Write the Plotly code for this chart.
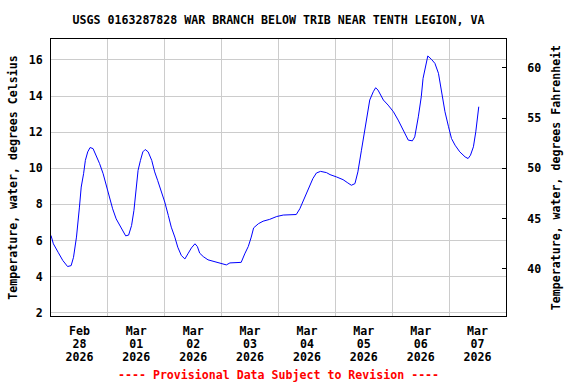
import plotly.graph_objects as go

times = [
    "2026-02-27 12:00", "2026-02-27 13:00", "2026-02-27 15:00", "2026-02-27 17:00",
    "2026-02-27 19:00", "2026-02-27 20:30", "2026-02-27 21:30", "2026-02-27 22:45",
    "2026-02-28 00:00", "2026-02-28 00:45", "2026-02-28 01:45", "2026-02-28 02:30",
    "2026-02-28 03:30", "2026-02-28 04:30", "2026-02-28 05:45", "2026-02-28 07:00",
    "2026-02-28 08:30", "2026-02-28 10:00", "2026-02-28 11:15", "2026-02-28 12:45",
    "2026-02-28 14:00", "2026-02-28 15:30", "2026-02-28 17:00", "2026-02-28 18:30",
    "2026-02-28 19:30", "2026-02-28 20:45", "2026-02-28 22:00", "2026-02-28 23:00",
    "2026-02-28 23:45", "2026-03-01 00:45", "2026-03-01 01:45", "2026-03-01 02:45",
    "2026-03-01 03:45", "2026-03-01 05:00", "2026-03-01 06:30", "2026-03-01 07:45",
    "2026-03-01 09:00", "2026-03-01 10:30", "2026-03-01 12:00", "2026-03-01 13:30",
    "2026-03-01 14:45", "2026-03-01 16:15", "2026-03-01 17:30", "2026-03-01 19:00",
    "2026-03-01 20:30", "2026-03-01 21:45", "2026-03-01 23:15", "2026-03-02 00:45",
    "2026-03-02 01:45", "2026-03-02 02:45", "2026-03-02 04:15", "2026-03-02 06:15",
    "2026-03-02 08:30", "2026-03-02 10:30", "2026-03-02 12:30", "2026-03-02 14:00",
    "2026-03-02 15:30", "2026-03-02 18:15", "2026-03-02 20:15", "2026-03-02 21:45",
    "2026-03-02 23:15", "2026-03-03 00:30", "2026-03-03 01:30", "2026-03-03 03:30",
    "2026-03-03 05:30", "2026-03-03 08:15", "2026-03-03 11:15", "2026-03-03 14:00",
    "2026-03-03 16:45", "2026-03-03 19:30", "2026-03-03 21:00", "2026-03-03 22:30",
    "2026-03-03 23:45", "2026-03-04 01:15", "2026-03-04 02:30", "2026-03-04 04:00",
    "2026-03-04 05:45", "2026-03-04 08:15", "2026-03-04 09:45", "2026-03-04 12:30",
    "2026-03-04 15:15", "2026-03-04 17:15", "2026-03-04 18:45", "2026-03-04 20:15",
    "2026-03-04 21:30", "2026-03-04 23:00", "2026-03-05 00:00", "2026-03-05 01:15",
    "2026-03-05 02:30", "2026-03-05 04:00", "2026-03-05 05:00", "2026-03-05 06:00",
    "2026-03-05 08:15", "2026-03-05 10:15", "2026-03-05 12:30", "2026-03-05 14:30",
    "2026-03-05 16:45", "2026-03-05 18:45", "2026-03-05 20:30", "2026-03-05 21:30",
    "2026-03-05 23:00", "2026-03-06 00:15", "2026-03-06 01:00", "2026-03-06 02:15",
    "2026-03-06 03:00", "2026-03-06 04:30", "2026-03-06 06:00", "2026-03-06 07:30",
    "2026-03-06 09:00", "2026-03-06 10:15", "2026-03-06 11:45", "2026-03-06 13:00",
    "2026-03-06 14:30", "2026-03-06 16:30", "2026-03-06 18:45", "2026-03-06 20:00",
    "2026-03-06 21:00", "2026-03-06 22:15", "2026-03-06 23:15", "2026-03-07 00:00",
    "2026-03-07 00:30",
]
temp_c = [
    6.28, 5.82, 5.35, 4.89, 4.56, 4.61, 5.07, 6.19,
    7.85, 8.96, 9.70, 10.44, 10.91, 11.15, 11.09, 10.72,
    10.26, 9.70, 9.06, 8.41, 7.76, 7.20, 6.83, 6.46,
    6.26, 6.30, 6.83, 7.67, 8.78, 9.89, 10.44, 10.91,
    11.04, 10.91, 10.44, 9.80, 9.33, 8.78, 8.13, 7.39,
    6.74, 6.19, 5.63, 5.17, 4.98, 5.26, 5.59, 5.82,
    5.67, 5.30, 5.11, 4.93, 4.85, 4.78, 4.74, 4.65,
    4.76, 4.76, 4.79, 5.26, 5.67, 6.19, 6.70, 6.93,
    7.07, 7.17, 7.33, 7.41, 7.44, 7.44, 7.76, 8.22,
    8.69, 9.06, 9.43, 9.74, 9.83, 9.76, 9.65, 9.52,
    9.37, 9.19, 9.06, 9.15, 9.80, 11.00, 11.74, 12.85,
    13.78, 14.24, 14.46, 14.33, 13.78, 13.50, 13.13, 12.67,
    12.07, 11.56, 11.52, 11.74, 12.85, 13.96, 14.98, 15.72,
    16.22, 16.04, 15.81, 15.26, 14.15, 13.13, 12.30, 11.65,
    11.28, 10.91, 10.63, 10.54, 10.72, 11.19, 12.02, 12.85,
    13.41,
]

day_ticks = ["2026-02-28", "2026-03-01", "2026-03-02", "2026-03-03",
             "2026-03-04", "2026-03-05", "2026-03-06", "2026-03-07"]
day_months = ["Feb", "Mar", "Mar", "Mar", "Mar", "Mar", "Mar", "Mar"]
day_days = ["28", "01", "02", "03", "04", "05", "06", "07"]
day_years = ["2026"] * 8
celsius_ticks = [2, 4, 6, 8, 10, 12, 14, 16]
fahrenheit_ticks = [40, 45, 50, 55, 60]

title_text = "USGS 0163287828 WAR BRANCH BELOW TRIB NEAR TENTH LEGION, VA"
left_title = "Temperature, water, degrees Celsius"
right_title = "Temperature, water, degrees Fahrenheit"
footer = "---- Provisional Data Subject to Revision ----"

x_range = ["2026-02-27 12:00", "2026-03-07 12:00"]
c_range = [1.82, 17.16]
f_range = [c * 9 / 5 + 32 for c in c_range]
temp_f = [c * 9 / 5 + 32 for c in temp_c]

FS = 11.6
FONT = dict(family="DejaVu Sans Mono", size=FS, color="black", weight="bold")
GRID = "#cccccc"


def big(s):
    return "<span style='font-size:%gpx'>" % FS + s + "</span>"


day_labels = ["<br>".join(big(p) for p in parts)
              for parts in zip(day_months, day_days, day_years)]

fig = go.Figure()
fig.add_trace(go.Scatter(x=times, y=temp_c, mode="lines",
                         line=dict(color="#0000ff", width=1),
                         showlegend=False, hoverinfo="skip"))
# same series in Fahrenheit on the secondary axis (coincides, kept invisible)
fig.add_trace(go.Scatter(x=times, y=temp_f, mode="lines", yaxis="y2",
                         line=dict(color="rgba(0,0,0,0)", width=1),
                         showlegend=False, hoverinfo="skip"))

PLOT_TOP, PLOT_BOTTOM = 39, 316

fig.update_layout(
    width=576, height=384,
    margin=dict(l=51, r=70, t=PLOT_TOP, b=384 - PLOT_BOTTOM),
    paper_bgcolor="white", plot_bgcolor="white",
    font=FONT,
    title=dict(text=title_text, x=0.5, xref="paper", xanchor="center",
               y=1 - 16 / 384, yref="container", yanchor="top", font=FONT),
    xaxis=dict(
        type="date", range=x_range, automargin=False,
        tickmode="array", tickvals=day_ticks, ticktext=day_labels,
        showgrid=False, ticks="", ticklabelstandoff=6,
        showline=True, linecolor="black", linewidth=1, mirror=True,
        minor=dict(showgrid=True, gridcolor=GRID, gridwidth=1,
                   tick0="2026-02-27 12:00", dtick=86400000, ticks=""),
        tickfont=dict(family="DejaVu Sans Mono", size=10, color="black", weight="bold"),
        zeroline=False,
    ),
    yaxis=dict(
        range=c_range, tickmode="array", tickvals=celsius_ticks, automargin=False,
        showgrid=True, gridcolor=GRID, gridwidth=1,
        ticks="", ticklabelstandoff=5,
        showline=True, linecolor="black", linewidth=1, mirror=True,
        zeroline=False, tickfont=FONT,
        title=dict(text=left_title, font=FONT, standoff=8),
    ),
    yaxis2=dict(
        range=f_range, overlaying="y", side="right", anchor="x", automargin=False,
        tickmode="array", tickvals=fahrenheit_ticks,
        showgrid=False, ticks="inside", ticklen=4, tickcolor="black",
        ticklabelstandoff=18,
        showline=True, linecolor="black", linewidth=1,
        zeroline=False, tickfont=FONT,
        title=dict(text=right_title, font=FONT, standoff=11),
    ),
    annotations=[dict(text=footer, x=0.5, xref="paper", xanchor="center",
                      y=-(375 - PLOT_BOTTOM) / (PLOT_BOTTOM - PLOT_TOP),
                      yref="paper", yanchor="middle", showarrow=False,
                      font=dict(family="DejaVu Sans Mono", size=FS,
                                color="#ff0000", weight="bold"))],
)

fig.write_html("out.html",
               config={"displayModeBar": False},
               post_script="document.body.style.margin='0';")
